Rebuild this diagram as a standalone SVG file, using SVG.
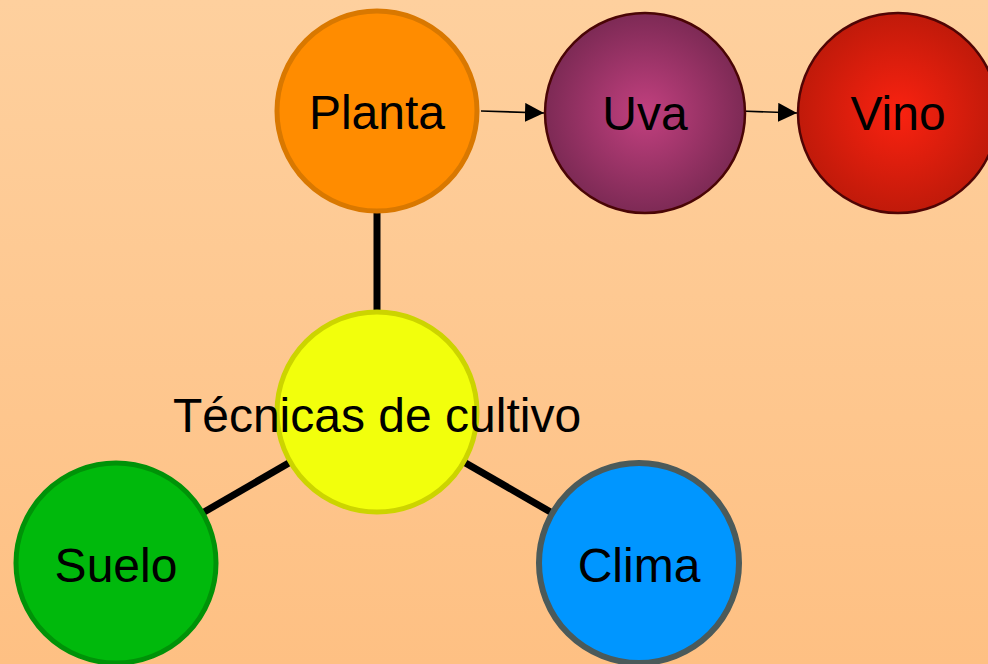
<svg xmlns="http://www.w3.org/2000/svg" width="988" height="664" viewBox="0 0 988 664">
<defs>
  <linearGradient id="bg" x1="0" y1="0" x2="0" y2="1">
    <stop offset="0" stop-color="#fed09e"/>
    <stop offset="1" stop-color="#fec083"/>
  </linearGradient>
  <radialGradient id="gUva" cx="0.5" cy="0.5" r="0.5">
    <stop offset="0" stop-color="#c2407f"/>
    <stop offset="1" stop-color="#7d2a55"/>
  </radialGradient>
  <radialGradient id="gVino" cx="0.5" cy="0.5" r="0.5">
    <stop offset="0" stop-color="#fa2210"/>
    <stop offset="1" stop-color="#c01a0a"/>
  </radialGradient>
  <marker id="arr" viewBox="0 0 10 10" refX="10" refY="5" markerWidth="19" markerHeight="19" markerUnits="userSpaceOnUse" orient="auto">
    <path d="M0,0 L10,5 L0,10 z" fill="#000"/>
  </marker>
</defs>
<style>
  .lbl { font-family: "Liberation Sans", Arial, sans-serif; font-size: 48px; fill: #000; text-anchor: middle; }
  .thick { stroke: #000; stroke-width: 7; fill: none; }
  .thin { stroke: #000; stroke-width: 1.6; fill: none; }
</style>
<rect width="988" height="664" fill="url(#bg)"/>
<g id="connectors">
  <line class="thick" x1="377" y1="212" x2="377" y2="312"/>
  <line class="thick" x1="377" y1="412" x2="116" y2="563"/>
  <line class="thick" x1="377" y1="412" x2="639" y2="563"/>
  <line class="thin" x1="481" y1="111" x2="544" y2="113" marker-end="url(#arr)"/>
  <line class="thin" x1="740" y1="111" x2="797" y2="113" marker-end="url(#arr)"/>
</g>
<g id="planta">
  <circle cx="377" cy="111" r="100" fill="#ff8c00" stroke="#d97800" stroke-width="5"/>
  <text class="lbl" x="377" y="129">Planta</text>
</g>
<g id="uva">
  <circle cx="645" cy="113" r="100" fill="url(#gUva)" stroke="#4a0505" stroke-width="2.5"/>
  <text class="lbl" x="645" y="130">Uva</text>
</g>
<g id="vino">
  <circle cx="898" cy="113" r="100" fill="url(#gVino)" stroke="#500505" stroke-width="2.5"/>
  <text class="lbl" x="898" y="130">Vino</text>
</g>
<g id="suelo">
  <circle cx="116" cy="563" r="100" fill="#00b90c" stroke="#009208" stroke-width="5"/>
  <text class="lbl" x="116" y="582">Suelo</text>
</g>
<g id="clima">
  <circle cx="639" cy="563" r="100" fill="#0096ff" stroke="#4b5a5a" stroke-width="6"/>
  <text class="lbl" x="639" y="582">Clima</text>
</g>
<g id="tecnicas">
  <circle cx="377" cy="412" r="100" fill="#f2ff0c" stroke="#ccd400" stroke-width="5"/>
  <text class="lbl" x="377" y="432">Técnicas de cultivo</text>
</g>
</svg>
